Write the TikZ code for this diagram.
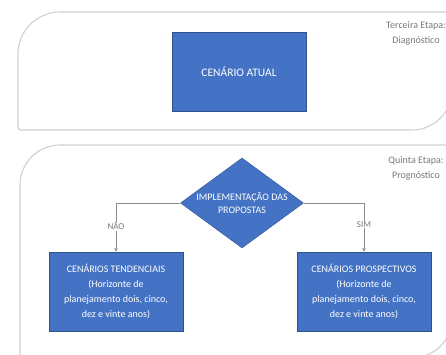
\documentclass[tikz,border=0pt]{standalone}
\usepackage{fontspec}
\setmainfont{Carlito}
\usetikzlibrary{arrows.meta,positioning,shapes.geometric}
\definecolor{boxblue}{RGB}{68,114,196}
\definecolor{boxedge}{RGB}{47,82,143}
\definecolor{panelgray}{RGB}{208,208,208}
\definecolor{labelgray}{RGB}{120,120,120}
\definecolor{linegray}{RGB}{140,140,140}

\tikzset{
  cenbox/.style={draw=boxedge,fill=boxblue,text=white,minimum width=134pt,minimum height=79pt,
    align=center,inner sep=2pt,font=\fontsize{10}{15}\selectfont},
  decision/.style={diamond,draw=boxedge,fill=boxblue,text=white,minimum width=123pt,minimum height=90pt,
    inner sep=0pt,align=center,font=\fontsize{10}{13}\selectfont},
  panel/.style={draw=panelgray,line width=1.1pt},
  etapa/.style={text=labelgray,align=center,font=\fontsize{10}{15}\selectfont},
  flow/.style={draw=linegray,-{Stealth[length=4pt,width=3.5pt]}},
  answer/.style={fill=white,text=labelgray,font=\fontsize{9}{10}\selectfont,inner sep=1pt}
}
\newcommand{\tight}[1]{\makebox[0pt]{#1}}

\begin{document}
\begin{tikzpicture}[x=1pt,y=-1pt]
\useasboundingbox (0,0) rectangle (446,354);
\clip (0,0) rectangle (446,354);
% panels
\draw[panel] (18,127) -- (18,54) arc[start angle=180,end angle=270,radius=42] -- (452,12)
  -- (452,90) arc[start angle=0,end angle=90,radius=40] -- (21,130) arc[start angle=90,end angle=180,radius=3] -- cycle;
\draw[panel] (20,358) -- (20,185) arc[start angle=180,end angle=270,radius=40] -- (452,145)
  -- (452,318) arc[start angle=0,end angle=90,radius=40] -- cycle;
\node[etapa] (diag) at (416,33) {Terceira Etapa:\\Diagnóstico};
\node[etapa] (prog) at (416,168) {Quinta Etapa:\\Prognóstico};
% nodes
\node[cenbox,font=\fontsize{11.5}{14}\selectfont] (atual) at (239,71.5) {CENÁRIO ATUAL};
\node[decision] (impl) at (242,203) {\tight{IMPLEMENTAÇÃO DAS}\\\tight{PROPOSTAS}};
\node[cenbox] (tend) at (116,291.5) {CENÁRIOS TENDENCIAIS\\(Horizonte de\\planejamento dois, cinco,\\dez e vinte anos)};
\node[cenbox] (prosp) at (364,291.5) {CENÁRIOS PROSPECTIVOS\\(Horizonte de\\planejamento dois, cinco,\\dez e vinte anos)};
% connectors
\draw[flow] (impl.west) -| node[answer,pos=0.74] {NÃO} (tend.north);
\draw[flow] (impl.east) -| node[answer,pos=0.72] {SIM} (prosp.north);
\end{tikzpicture}
\end{document}
